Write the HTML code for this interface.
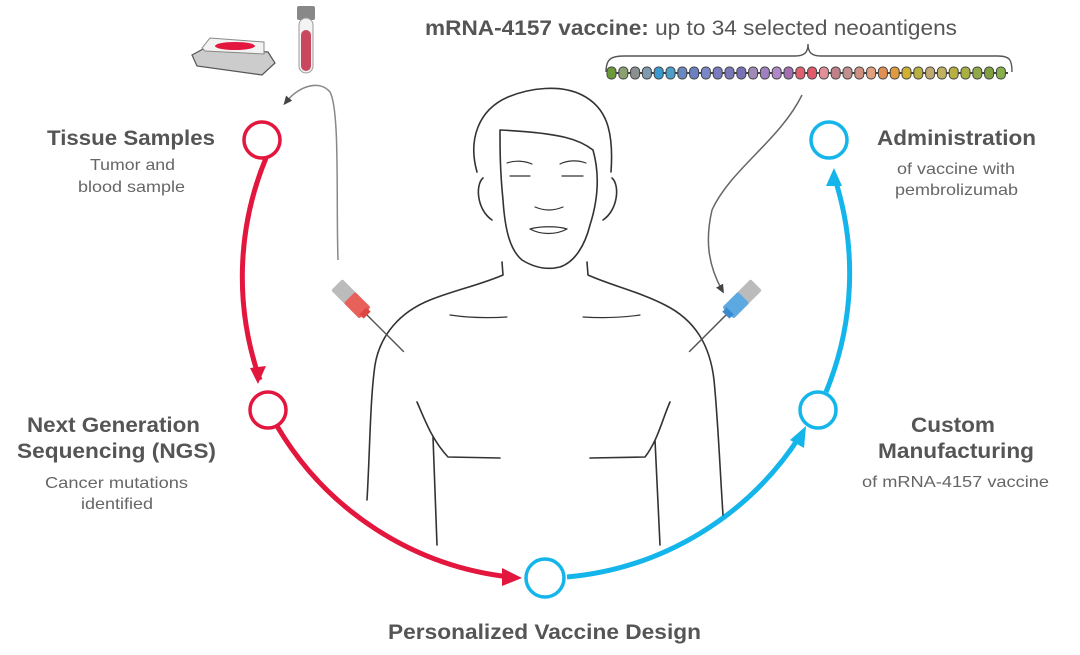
<!DOCTYPE html>
<html><head><meta charset="utf-8"><style>
body{margin:0;background:#fff;}
svg{display:block;font-family:"Liberation Sans",Arial,sans-serif;}
.b{font-weight:bold;font-size:21px;fill:#555;}
.s{font-size:16px;fill:#666;}
.fig{fill:none;stroke:#333;stroke-width:1.6;stroke-linecap:round;stroke-linejoin:round;}
</style></head><body>
<svg width="1080" height="655" viewBox="0 0 1080 655">
<defs>
<marker id="ag" markerWidth="10" markerHeight="10" refX="5" refY="5" orient="auto" markerUnits="userSpaceOnUse"><path d="M0,1 L9,5 L0,9 Z" fill="#444"/></marker>
</defs>

<path d="M266,158 A310,310 0 0 0 260,380" fill="none" stroke="#e3173e" stroke-width="5"/>
<path d="M250,368 L258,384 L266,366 Z" fill="#e3173e"/>
<path d="M277,426 A310,310 0 0 0 510,577" fill="none" stroke="#e3173e" stroke-width="5"/>
<path d="M502,568 L522,578 L502,586 Z" fill="#e3173e"/>
<path d="M567,577 A310,310 0 0 0 800,436" fill="none" stroke="#13b5ea" stroke-width="5"/>
<path d="M790,440 L806,426 L804,448 Z" fill="#13b5ea"/>
<path d="M826,392 A310,310 0 0 0 834,176" fill="none" stroke="#13b5ea" stroke-width="5"/>
<path d="M826,186 L834,168 L842,186 Z" fill="#13b5ea"/>

<g fill="#fff" stroke-width="3.5">
<circle cx="262" cy="140" r="18" stroke="#e3173e"/>
<circle cx="268" cy="410" r="18" stroke="#e3173e"/>
<circle cx="545" cy="578" r="19" stroke="#13b5ea"/>
<circle cx="818" cy="410" r="18" stroke="#13b5ea"/>
<circle cx="829" cy="140" r="18" stroke="#13b5ea"/>
</g>

<g class="fig">
<path d="M477,172 C468,140 478,110 508,97 C530,88 560,84 582,95 C606,107 614,130 611,172"/>
<path d="M500,130 C563,133 580,140 593,150 C600,175 598,200 590,225 C585,245 575,262 560,267 C548,270 535,268 522,260 C510,250 505,230 503,200 C500,170 500,150 500,130"/>
<path d="M483,178 C475,185 477,210 492,220"/><path d="M612,178 C620,185 618,210 603,220"/>
<path d="M510,176 L530,176 M562,176 L583,176 M507,163 C515,160 525,161 532,164 M560,164 C568,160 578,160 586,163" stroke-width="1.2"/>
<path d="M535,207 C545,211 553,211 563,207" stroke-width="1.2"/>
<path d="M530,229 C540,226 558,226 567,229 C556,235 541,235 530,229" stroke-width="1.2"/>
<path d="M502,262 L503,275 C480,285 455,290 430,300 C400,312 380,335 375,365 C370,400 370,450 367,500"/>
<path d="M587,262 L588,275 C610,285 640,292 665,305 C695,320 710,345 714,380 C718,420 720,470 723,515"/>
<path d="M450,315 C470,318 490,318 507,317 M583,317 C600,318 620,318 640,315" stroke-width="1.2"/>
<path d="M417,402 C425,420 432,440 448,457 L500,458 M433,437 L437,545"/>
<path d="M670,402 C662,420 658,440 645,457 L590,458 M655,440 L660,545"/>
</g>

<g transform="translate(365,313) rotate(45)">
<line x1="0" y1="0" x2="55" y2="0" stroke="#555" stroke-width="1.5"/>
<rect x="-40" y="-8" width="40" height="16" rx="2" fill="#bbb"/>
<rect x="-22" y="-8" width="22" height="16" rx="2" fill="#e8605a"/>
<rect x="-3" y="-5" width="6" height="10" fill="#d44"/>
</g>
<g transform="translate(728,313) rotate(135)">
<line x1="0" y1="0" x2="55" y2="0" stroke="#555" stroke-width="1.5"/>
<rect x="-40" y="-8" width="40" height="16" rx="2" fill="#bbb"/>
<rect x="-22" y="-8" width="22" height="16" rx="2" fill="#5ba9e0"/>
<rect x="-3" y="-5" width="6" height="10" fill="#3a8ad0"/>
</g>

<path d="M338,260 C336,200 340,110 330,92 C320,80 300,85 286,102" fill="none" stroke="#888" stroke-width="1.5" marker-end="url(#ag)"/>
<path d="M802,95 C780,140 730,170 712,210 C705,240 708,265 722,290" fill="none" stroke="#666" stroke-width="1.5" marker-end="url(#ag)"/>

<g>
<path d="M192,55 L205,48 L268,52 L275,63 L262,75 L197,66 Z" fill="#ccc" stroke="#555" stroke-width="1.2"/>
<path d="M202,48 L210,38 L264,42 L264,54 L205,51 Z" fill="#f2f2f2" stroke="#888" stroke-width="1"/>
<ellipse cx="235" cy="46" rx="20" ry="4" fill="#e3173e"/>
<rect x="297" y="6" width="18" height="14" rx="2" fill="#888"/>
<rect x="299" y="18" width="14" height="55" rx="7" fill="#f3f3f3" stroke="#999"/>
<rect x="301" y="30" width="10" height="41" rx="5" fill="#c9485f"/>
</g>

<path d="M606,72 C606,58 612,56 625,56 L795,56 C805,56 808,52 808,44 C808,52 811,56 821,56 L998,56 C1010,56 1012,60 1012,72" fill="none" stroke="#555" stroke-width="1.4"/>
<g id="beads"></g>

<text x="425" y="35" textLength="532" lengthAdjust="spacingAndGlyphs" style="font-size:21px;fill:#555"><tspan font-weight="bold">mRNA-4157 vaccine:</tspan> up to 34 selected neoantigens</text>
<text class="b" x="47" y="145" textLength="168" lengthAdjust="spacingAndGlyphs">Tissue Samples</text>
<text class="s" x="90" y="170" textLength="85" lengthAdjust="spacingAndGlyphs">Tumor and</text>
<text class="s" x="78" y="192" textLength="107" lengthAdjust="spacingAndGlyphs">blood sample</text>
<text class="b" x="27" y="432" textLength="173" lengthAdjust="spacingAndGlyphs">Next Generation</text>
<text class="b" x="17" y="458" textLength="199" lengthAdjust="spacingAndGlyphs">Sequencing (NGS)</text>
<text class="s" x="45" y="488" textLength="143" lengthAdjust="spacingAndGlyphs">Cancer mutations</text>
<text class="s" x="81" y="509" textLength="72" lengthAdjust="spacingAndGlyphs">identified</text>
<text class="b" x="877" y="145" textLength="159" lengthAdjust="spacingAndGlyphs">Administration</text>
<text class="s" x="897" y="174" textLength="118" lengthAdjust="spacingAndGlyphs">of vaccine with</text>
<text class="s" x="895" y="195" textLength="123" lengthAdjust="spacingAndGlyphs">pembrolizumab</text>
<text class="b" x="911" y="432" textLength="84" lengthAdjust="spacingAndGlyphs">Custom</text>
<text class="b" x="878" y="458" textLength="156" lengthAdjust="spacingAndGlyphs">Manufacturing</text>
<text class="s" x="862" y="487" textLength="187" lengthAdjust="spacingAndGlyphs">of mRNA-4157 vaccine</text>
<text class="b" x="388" y="639" textLength="313" lengthAdjust="spacingAndGlyphs">Personalized Vaccine Design</text>
</svg>
<script>
(function(){
var cols=["#6a9a3a","#8aa070","#8a9090","#7f9ab0","#3a9ad0","#4aa0c8","#6a88c0","#6a80c0","#7a88c8","#7a7ac0","#7a78b8","#7a70b8","#a08ab8","#a080c0","#b088c8","#a070b0","#e06070","#e05a6a","#e09098","#c08088","#c09090","#d09080","#e0a080","#e09050","#e09a40","#d0b030","#b8b040","#c0a870","#c0b060","#b8b040","#a8b040","#90a848","#80a040","#88b048"];
var g=document.getElementById("beads"),ns="http://www.w3.org/2000/svg";
var l=document.createElementNS(ns,"line");l.setAttribute("x1",608);l.setAttribute("x2",1008);l.setAttribute("y1",73);l.setAttribute("y2",73);l.setAttribute("stroke","#444");l.setAttribute("stroke-width","2");g.appendChild(l);
for(var i=0;i<34;i++){var r=document.createElementNS(ns,"rect");r.setAttribute("x",607+i*11.8);r.setAttribute("y",67);r.setAttribute("width",9);r.setAttribute("height",12);r.setAttribute("rx",4);r.setAttribute("fill",cols[i]);r.setAttribute("stroke","#444");r.setAttribute("stroke-width","1");g.appendChild(r);}
})();
</script>
</body></html>
